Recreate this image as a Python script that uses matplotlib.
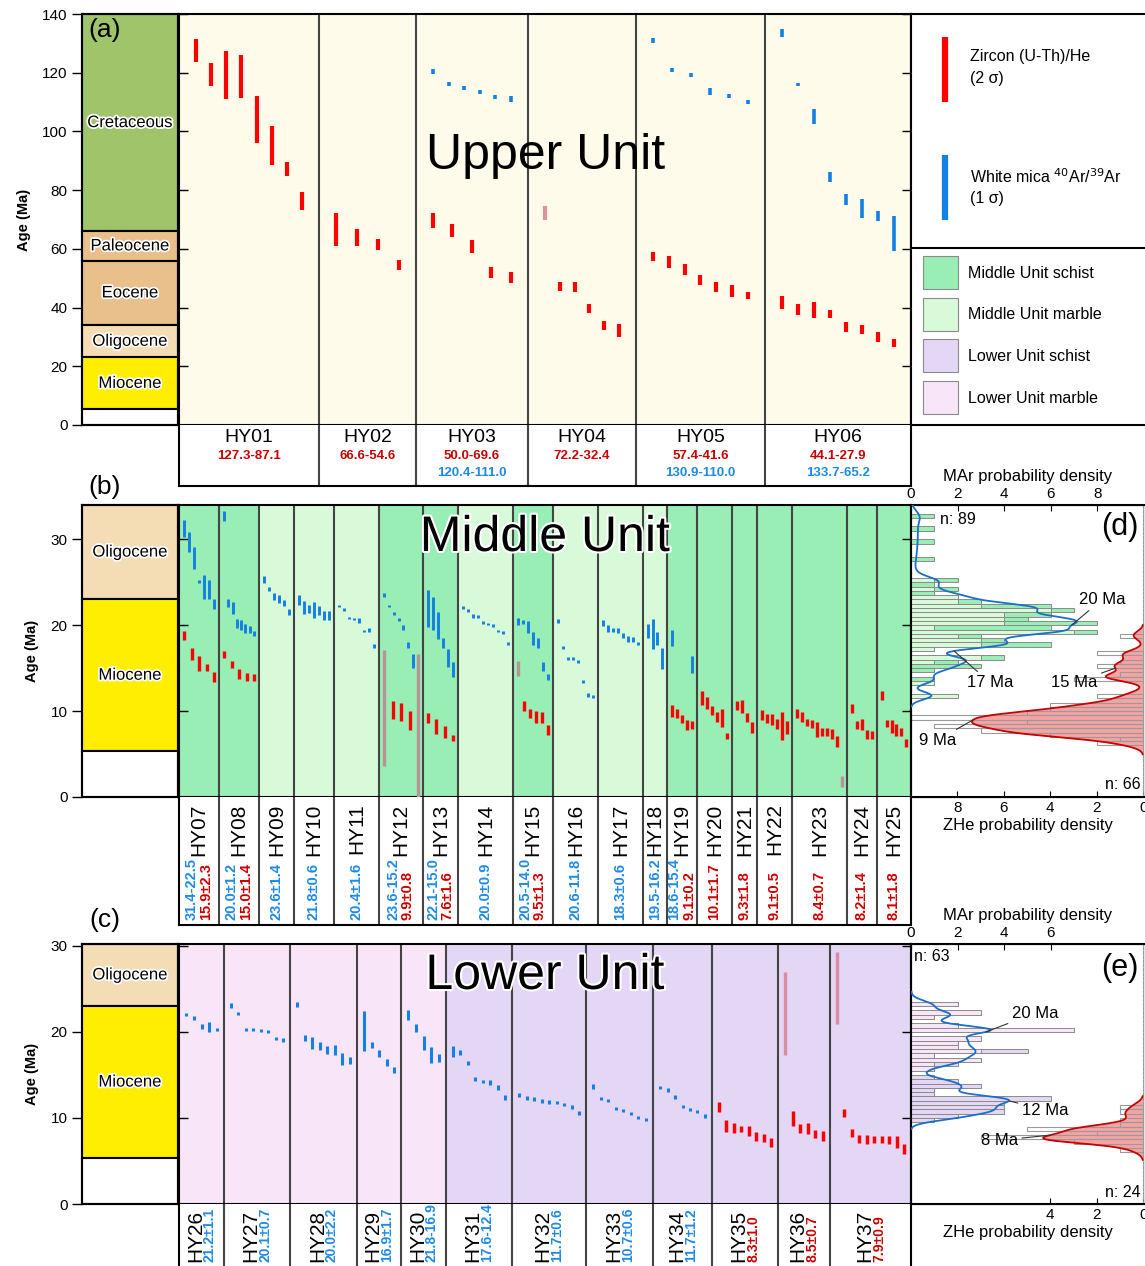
import numpy as np
import matplotlib
matplotlib.use("Agg")
import matplotlib.pyplot as plt
import matplotlib.patheffects as pe
from matplotlib.patches import Rectangle

plt.rcParams['font.family'] = ['Liberation Sans', 'DejaVu Sans']

W, H = 1145, 1266

RED = '#ff0000'
BLUE = '#1380e3'
TXT_RED = '#cc0000'
TXT_BLUE = '#1e8ae8'

# geologic time scale
epoch_name = ["Cretaceous", "Paleocene", "Eocene", "Oligocene", "Miocene", ""]
epoch_top = [145.0, 66.0, 56.0, 34.0, 23.03, 5.33]
epoch_base = [66.0, 56.0, 34.0, 23.03, 5.33, 0.0]
epoch_col = ["#a0c46a", "#e9bf8c", "#e9bf8c", "#f4dcb4", "#ffee00", "#ffffff"]

# ---------------- (a) Upper Unit ----------------
a_names = ["HY01", "HY02", "HY03", "HY04", "HY05", "HY06"]
a_zhe_lbl = ["127.3-87.1", "66.6-54.6", "50.0-69.6", "72.2-32.4", "57.4-41.6", "44.1-27.9"]
a_mar_lbl = ["", "", "120.4-111.0", "", "130.9-110.0", "133.7-65.2"]
# (young, old) ; a third item marks a rejected grain
a_zhe = [
    [(123.7, 131.5), (115.5, 123.3), (111.0, 127.4), (111.4, 126.0), (96.1, 112.1),
     (88.6, 101.8), (84.8, 89.6), (73.3, 79.4)],
    [(61.0, 72.2), (61.0, 66.8), (59.6, 63.4), (52.8, 56.2)],
    [(67.1, 72.2), (64.0, 68.5), (58.6, 63.0), (50.1, 53.8), (48.4, 52.1)],
    [(69.8, 74.6, "x"), (45.6, 48.7), (45.3, 48.7), (38.1, 41.2), (32.4, 35.4), (30.0, 34.4)],
    [(55.9, 58.9), (53.5, 57.6), (51.1, 54.8), (47.7, 51.1), (45.3, 48.7), (43.6, 47.7), (42.9, 45.3)],
    [(39.5, 43.9), (37.5, 41.2), (36.4, 41.9), (36.4, 39.2), (31.7, 35.1), (31.0, 34.1),
     (28.3, 31.7), (26.6, 29.3)],
]
a_mar = [
    [], [],
    [(119.5, 121.2), (115.5, 116.8), (114.1, 115.5), (112.7, 114.1), (111.0, 112.4), (110.0, 112.1)],
    [],
    [(130.1, 131.8), (120.2, 121.6), (118.5, 119.9), (112.4, 114.8), (111.4, 112.7), (109.3, 110.7)],
    [(132.2, 134.9), (115.5, 116.5), (102.5, 107.6), (82.8, 86.2), (74.9, 78.7), (70.5, 77.0),
     (69.5, 72.9), (59.3, 71.2)],
]

# ---------------- (b) Middle Unit ----------------
b_names = ["HY%02d" % i for i in range(7, 26)]
b_lith = list("SSMMMSSMSMMMSSSSSSS")
b_mar_lbl = ["31.4-22.5", "20.0±1.2", "23.6±1.4", "21.8±0.6", "20.4±1.6", "23.6-15.2", "22.1-15.0",
             "20.0±0.9", "20.5-14.0", "20.6-11.8", "18.3±0.6", "19.5-16.2", "18.6-15.4",
             "", "", "", "", "", ""]
b_zhe_lbl = ["15.9±2.3", "15.0±1.4", "", "", "", "9.9±0.8", "7.6±1.6", "", "9.5±1.3", "", "", "",
             "9.1±0.2", "10.1±1.7", "9.3±1.8", "9.1±0.5", "8.4±0.7", "8.2±1.4", "8.1±1.8"]
b_zhe = [
    [(18.3, 19.3), (15.9, 17.4), (14.7, 16.4), (14.7, 15.5), (13.4, 14.5)],
    [(16.2, 17.0), (15.0, 15.8), (13.7, 14.9), (13.5, 14.4), (13.5, 14.3)],
    [], [], [],
    [(3.6, 17.1, "x"), (9.1, 11.2), (8.8, 10.9), (7.8, 10.0), (-0.9, 16.6, "x")],
    [(8.6, 9.8), (7.3, 9.1), (6.9, 8.3), (6.5, 7.2)],
    [],
    [(14.1, 15.8, "x"), (10.0, 11.2), (9.2, 10.2), (8.6, 10.0), (8.6, 9.9), (7.2, 8.4)],
    [], [], [],
    [(9.3, 10.7), (9.2, 10.3), (8.6, 9.5), (7.8, 9.0), (7.9, 8.8)],
    [(10.7, 12.3), (10.3, 11.6), (9.5, 10.6), (8.7, 9.9), (8.1, 10.2), (6.7, 7.4)],
    [(10.1, 11.2), (9.8, 11.3), (8.7, 9.8), (7.4, 8.7)],
    [(9.0, 10.1), (8.6, 9.7), (8.4, 9.7), (7.9, 9.1), (6.6, 9.9), (7.3, 8.8)],
    [(9.2, 10.2), (8.7, 9.9), (8.3, 9.1), (8.0, 9.0), (7.0, 8.7), (7.1, 8.0), (7.1, 8.0),
     (6.7, 7.9), (5.8, 7.1), (1.2, 2.4, "x")],
    [(9.8, 10.8), (7.9, 8.8), (7.8, 9.1), (6.7, 7.8), (6.7, 7.7)],
    [(11.3, 12.3), (8.1, 9.0), (7.4, 9.0), (7.1, 8.5), (7.1, 8.0), (5.8, 6.7)],
]
b_mar = [
    [(30.3, 32.3), (28.5, 30.8), (26.6, 29.1), (24.9, 25.3), (23.1, 25.9), (23.0, 25.3), (21.9, 23.0)],
    [(32.1, 33.3), (22.1, 23.1), (21.3, 22.7), (19.7, 20.7), (19.5, 20.6), (19.1, 20.2),
     (19.1, 19.9), (18.7, 19.3)],
    [(24.9, 25.7), (24.0, 24.5), (22.9, 23.7), (22.6, 23.5), (22.2, 22.9), (21.2, 21.9)],
    [(22.3, 23.5), (21.3, 22.8), (21.4, 22.4), (20.8, 22.7), (21.2, 22.2), (20.6, 21.7), (20.6, 21.6)],
    [(22.1, 22.4), (21.7, 22.0), (20.7, 21.0), (20.6, 20.9), (20.3, 20.8), (19.2, 19.5),
     (19.2, 19.7), (17.4, 17.8)],
    [(23.3, 23.7), (22.1, 22.3), (21.2, 21.5), (20.5, 20.8), (19.4, 20.0), (17.4, 18.0),
     (15.0, 16.7), (14.9, 15.2)],
    [(19.8, 24.1), (19.5, 23.3), (18.4, 21.5), (17.4, 18.5), (15.1, 17.2), (14.0, 15.7)],
    [(21.9, 22.2), (21.5, 21.9), (20.9, 21.3), (20.8, 21.2), (20.1, 20.5), (20.0, 20.3),
     (19.8, 20.2), (19.2, 19.5), (19.0, 19.3), (17.7, 18.0)],
    [(20.0, 20.8), (20.2, 20.6), (19.1, 20.5), (17.7, 19.2), (17.4, 18.5), (14.7, 15.7), (13.6, 14.3)],
    [(20.3, 20.7), (17.2, 17.6), (15.9, 16.3), (15.9, 16.3), (15.6, 15.9), (13.3, 13.6),
     (11.7, 12.1), (11.5, 11.9)],
    [(19.9, 20.6), (19.2, 20.0), (19.2, 19.7), (19.1, 19.7), (18.5, 19.1), (18.1, 18.7),
     (18.0, 18.6), (17.7, 18.0)],
    [(18.5, 20.2), (17.2, 20.7), (17.7, 19.2), (14.9, 17.3)],
    [(17.6, 19.4), (14.4, 16.4)],
    [], [], [], [], [], [],
]

# ---------------- (c) Lower Unit ----------------
c_names = ["HY%02d" % i for i in range(26, 38)]
c_lith = list("MMMMMSSSSSSS")
c_lbl = ["21.2±1.1", "20.1±0.7", "20.0±2.2", "16.9±1.7", "21.8-16.9", "17.6-12.4", "11.7±0.6",
         "10.7±0.6", "11.7±1.2", "8.3±1.0", "8.5±0.7", "7.9±0.9"]
c_lbl_is_zhe = [False] * 9 + [True] * 3
c_mar = [
    [(21.9, 22.2), (21.4, 21.9), (20.3, 20.9), (20.0, 21.2), (20.1, 20.5)],
    [(22.8, 23.4), (22.0, 22.3), (20.1, 20.5), (20.1, 20.5), (20.0, 20.3), (19.9, 20.2),
     (19.1, 19.4), (18.8, 19.3)],
    [(22.9, 23.5), (19.0, 19.7), (18.0, 19.4), (17.9, 18.8), (17.4, 18.4), (17.3, 18.5),
     (16.2, 17.6), (16.3, 17.1)],
    [(17.8, 22.4), (18.1, 18.8), (17.1, 17.9), (16.0, 16.9), (15.2, 15.9)],
    [(21.4, 22.6), (20.0, 20.9), (17.9, 19.5), (16.4, 18.3), (16.5, 17.4)],
    [(17.1, 18.4), (17.3, 17.9), (16.2, 16.6), (14.3, 14.8), (14.1, 14.4), (13.8, 14.4),
     (13.3, 13.8), (12.1, 12.7)],
    [(12.4, 12.9), (12.1, 12.6), (12.0, 12.4), (11.7, 12.2), (11.6, 12.1), (11.6, 12.0),
     (11.4, 11.7), (11.0, 11.5), (10.3, 10.8)],
    [(13.4, 14.0), (12.1, 12.4), (11.9, 12.2), (10.9, 11.3), (10.7, 11.0), (10.3, 10.7),
     (9.9, 10.2), (9.7, 10.0)],
    [(13.4, 13.7), (13.0, 13.5), (12.2, 12.7), (11.2, 11.5), (10.8, 11.2), (10.6, 10.9), (10.0, 10.5)],
    [], [], [],
]
c_zhe = [
    [], [], [], [], [], [], [], [], [],
    [(10.7, 11.9), (8.4, 9.8), (8.3, 9.4), (8.4, 9.1), (7.9, 9.1), (7.3, 8.4), (7.2, 8.1), (6.6, 7.7)],
    [(17.3, 27.0, "x"), (9.1, 10.8), (8.3, 9.3), (8.1, 9.4), (7.7, 8.6), (7.3, 8.5)],
    [(20.9, 29.3, "x"), (10.1, 11.0), (7.8, 8.7), (7.1, 8.0), (7.0, 8.0), (7.1, 7.9), (7.1, 7.9),
     (7.0, 7.9), (6.5, 7.9), (5.8, 7.0)],
]

# layout: relative column widths (pixels of the original)
a_w = [140, 97, 112, 108, 129, 146]
b_w = [40, 40, 35, 40, 45, 44, 35, 55, 40, 45, 45, 24, 30, 35, 25, 35, 55, 30, 34]
c_w = [45, 66, 67, 44, 45, 66, 74, 67, 59, 66, 52, 81]

FILL = {"U": "#fefbeb", "MS": "#98eeb4", "MM": "#d9fad9", "LS": "#e4d7f5", "LM": "#f8e6f8"}

fig = plt.figure(figsize=(W / 100, H / 100), dpi=100)


def px_axes(x0, y0, x1, y1, **kw):
    return fig.add_axes([x0 / W, 1 - y1 / H, (x1 - x0) / W, (y1 - y0) / H], **kw)


def ptext(x, y, s, **kw):
    return fig.text(x / W, 1 - y / H, s, **kw)


def bounds(widths):
    e = np.concatenate([[0], np.cumsum(widths)])
    return e[:-1], np.array(widths, float)


def slots(x0, w, n, m):
    if n == 1:
        return np.array([x0 + w / 2])
    return x0 + m + np.arange(n) * (w - 2 * m) / (n - 1)


def strat(ax, ymax, yticks):
    for nm, t, b, c in zip(epoch_name, epoch_top, epoch_base, epoch_col):
        if b >= ymax:
            continue
        top = min(t, ymax)
        ax.add_patch(Rectangle((0, b), 1, top - b, fc=c, ec='k', lw=1.5, clip_on=False))
        if nm:
            ax.text(0.5, (b + top) / 2, nm, ha='center', va='center', fontsize=12,
                    path_effects=[pe.withStroke(linewidth=2.5, foreground='white')])
    ax.set_xlim(0, 1)
    ax.set_ylim(0, ymax)
    ax.set_xticks([])
    ax.set_yticks(yticks)
    ax.tick_params(axis='y', direction='out', length=7, width=1, labelsize=11)
    ax.set_ylabel('Age (Ma)', fontweight='bold', fontsize=10.5, labelpad=8)
    for s in ax.spines.values():
        s.set_linewidth(1.5)


def age_panel(ax, widths, fills, zhe, mar, ymax, yticks, margin, lw, rej_col):
    x0s, ws = bounds(widths)
    for x0, w, f in zip(x0s, ws, fills):
        ax.axvspan(x0, x0 + w, color=f, lw=0, zorder=0)
    for x in x0s[1:]:
        ax.axvline(x, color='#444444', lw=1.5, zorder=1)
    for x0, w, zl, ml in zip(x0s, ws, zhe, mar):
        for x, e in zip(slots(x0, w, len(ml), margin), ml):
            ax.vlines(x, e[0], e[1], colors=BLUE, lw=lw[1], zorder=3)
        for x, e in zip(slots(x0, w, len(zl), margin), zl):
            c = rej_col if len(e) > 2 else RED
            ax.vlines(x, e[0], e[1], colors=c, lw=lw[0], zorder=3, clip_on=False)
    ax.set_xlim(0, sum(widths))
    ax.set_ylim(0, ymax)
    ax.set_xticks([])
    ax.set_yticks(yticks)
    ax.tick_params(axis='y', direction='in', left=True, right=True, labelleft=False,
                   length=6.5, width=1)
    for s in ax.spines.values():
        s.set_linewidth(1.5)


def table(ax, widths):
    x0s, ws = bounds(widths)
    ax.set_xlim(0, sum(widths))
    ax.set_ylim(0, 1)
    ax.set_xticks([])
    ax.set_yticks([])
    for x in x0s[1:]:
        ax.axvline(x, color='#444444', lw=1.5)
    for s in ax.spines.values():
        s.set_linewidth(1.5)
    ax.spines['top'].set_visible(False)
    return x0s + ws / 2


def pdp(grains, nsig, bw, grid):
    y = np.zeros_like(grid)
    for g in grains:
        mu = (g[0] + g[1]) / 2
        s = np.hypot((g[1] - g[0]) / 2 / nsig, bw)
        y += np.exp(-0.5 * ((grid - mu) / s) ** 2) / (s * np.sqrt(2 * np.pi))
    return y * 0.5  # scaled to counts per 0.5 Ma bin


def hist_panel(ax, ymax, zhe, mar, lith, col_s, col_m, zticks, mticks, notes):
    zg = [g for s in zhe for g in s if len(g) == 2]
    ms = [g for s, l in zip(mar, lith) for g in s if l == 'S']
    mm = [g for s, l in zip(mar, lith) for g in s if l == 'M']
    bins = np.arange(0, ymax + 0.5, 0.5)
    grid = np.linspace(0, ymax, 800)

    # ZHe on bottom axis, growing leftwards from the right edge
    ax.set_ylim(0, ymax)
    ax.set_xlim(10.0, -0.08)
    kz = pdp(zg, 2, 0.42, grid)
    ax.fill_betweenx(grid, 0, kz, color='#f6a3a3', lw=0, zorder=1)
    cz, _ = np.histogram([(g[0] + g[1]) / 2 for g in zg], bins)
    ax.barh(bins[:-1], cz, height=0.5, align='edge', fc='none', ec='#9a9a9a', lw=0.8, zorder=2)
    ax.plot(np.where(kz > 0.02, kz, np.nan), grid, color='#c80000', lw=1.3, zorder=3)
    ax.set_xticks(zticks)
    ax.set_yticks([])
    ax.tick_params(axis='x', direction='in', length=4, labelsize=11, pad=3)
    ax.set_xlabel('ZHe probability density', fontsize=12, labelpad=2)
    for s in ax.spines.values():
        s.set_linewidth(1.5)
    ax.spines['right'].set_linewidth(0.8)
    ax.spines['right'].set_color('#999999')

    am = ax.twiny()
    am.set_xlim(0, 10.04)
    am.set_ylim(0, ymax)
    cm, _ = np.histogram([(g[0] + g[1]) / 2 for g in mm], bins)
    cs, _ = np.histogram([(g[0] + g[1]) / 2 for g in ms], bins)
    am.barh(bins[:-1], cm, height=0.5, align='edge', fc=col_m, ec='#8a8a8a', lw=0.7, zorder=2)
    am.barh(bins[:-1], cs, left=cm, height=0.5, align='edge', fc=col_s, ec='#8a8a8a', lw=0.7, zorder=2)
    km = pdp(ms + mm, 1, 0.4, grid)
    am.plot(np.where(km > 0.02, km, np.nan), grid, color='#1a6fc9', lw=1.3, zorder=4)
    am.set_xticks(mticks)
    am.tick_params(axis='x', direction='in', length=4, labelsize=11, pad=3)
    am.set_xlabel('MAr probability density', fontsize=12, labelpad=4)

    for kind, age, tx, ty, ha in notes:
        if kind == 'm':
            xy = (np.interp(age, grid, km), age)
            a = am
        else:
            xy = (np.interp(age, grid, kz), age)
            a = ax
        a.annotate('%d Ma' % age, xy=xy, xytext=(tx, ty), ha=ha, va='center', fontsize=12,
                   arrowprops=dict(arrowstyle='-', color='#333333', lw=0.8, shrinkA=1, shrinkB=0),
                   zorder=6)
    return am


# ---------------- panel (a) ----------------
ax_sa = px_axes(82, 14, 178, 425)
strat(ax_sa, 140, range(0, 141, 20))
ax_a = px_axes(179, 14, 911, 425)
age_panel(ax_a, a_w, [FILL["U"]] * 6, a_zhe, a_mar, 140, range(0, 141, 20), 17, (3.0, 2.6), '#e0909f')
ax_at = px_axes(179, 425, 911, 486)
for xc, nm, zl, ml in zip(table(ax_at, a_w), a_names, a_zhe_lbl, a_mar_lbl):
    ax_at.text(xc, 0.80, nm, ha='center', va='center', fontsize=14)
    ax_at.text(xc, 0.49, zl, ha='center', va='center', fontsize=9.5, fontweight='bold', color=TXT_RED)
    if ml:
        ax_at.text(xc, 0.21, ml, ha='center', va='center', fontsize=9.5, fontweight='bold', color=TXT_BLUE)
ptext(546, 156, 'Upper Unit', ha='center', va='center', fontsize=36)

# legend box
ax_l = px_axes(911, 14, 1145, 425)
ax_l.set_xlim(0, 234)
ax_l.set_ylim(411, 0)
ax_l.set_xticks([])
ax_l.set_yticks([])
for s in ax_l.spines.values():
    s.set_linewidth(1.5)
ax_l.spines['right'].set_visible(False)
ax_l.vlines(34, 23, 88, colors=RED, lw=4.5)
ax_l.text(59, 43, 'Zircon (U-Th)/He', va='center', fontsize=11.5)
ax_l.text(59, 64, '(2 σ)', va='center', fontsize=11.5)
ax_l.vlines(34, 141, 206, colors=BLUE, lw=4.5)
ax_l.text(59, 163, 'White mica $^{40}$Ar/$^{39}$Ar', va='center', fontsize=11.5)
ax_l.text(59, 184, '(1 σ)', va='center', fontsize=11.5)
ax_l.axhline(234, color='k', lw=1.5)
leg_lbl = ["Middle Unit schist", "Middle Unit marble", "Lower Unit schist", "Lower Unit marble"]
leg_col = [FILL["MS"], FILL["MM"], FILL["LS"], FILL["LM"]]
for i, (lb, cl) in enumerate(zip(leg_lbl, leg_col)):
    y0 = 242 + i * 41.7
    ax_l.add_patch(Rectangle((12, y0), 35, 33, fc=cl, ec='#8a8a8a', lw=0.8))
    ax_l.text(57, y0 + 17, lb, va='center', fontsize=11.5)

# ---------------- panel (b) ----------------
ax_sb = px_axes(82, 505, 178, 797)
strat(ax_sb, 34, [0, 10, 20, 30])
ax_b = px_axes(179, 505, 911, 797)
b_fill = [FILL["MS"] if l == 'S' else FILL["MM"] for l in b_lith]
age_panel(ax_b, b_w, b_fill, b_zhe, b_mar, 34, [0, 10, 20, 30], 5, (2.4, 2.1), '#b99393')
ax_bt = px_axes(179, 797, 911, 925)
for xc, nm, ml, zl in zip(table(ax_bt, b_w), b_names, b_mar_lbl, b_zhe_lbl):
    ax_bt.text(xc, 0.95, nm, rotation=90, ha='center', va='top', fontsize=15)
    vals = [(v, c) for v, c in ((ml, TXT_BLUE), (zl, TXT_RED)) if v]
    offs = [0] if len(vals) == 1 else [-7.5, 7.0]
    for (v, c), o in zip(vals, offs):
        ax_bt.text(xc + o, 0.04, v, rotation=90, ha='center', va='bottom', fontsize=10.5,
                   fontweight='bold', color=c)
ptext(545, 538, 'Middle Unit', ha='center', va='center', fontsize=36,
      path_effects=[pe.withStroke(linewidth=3, foreground='white')])

ax_d = px_axes(911, 505, 1145, 797)
am_d = hist_panel(ax_d, 34, b_zhe, b_mar, b_lith, FILL["MS"], FILL["MM"], [8, 6, 4, 2, 0], [0, 2, 4, 6, 8],
                  [('m', 20, 7.2, 23.0, 'left'), ('m', 17, 2.4, 13.3, 'left'),
                   ('z', 15, 1.97, 13.3, 'right'), ('z', 9, 8.07, 6.6, 'right')])
am_d.text(1.25, 32.3, 'n: 89', va='center', fontsize=11.5)
ax_d.text(0.1, 1.4, 'n: 66', ha='right', va='center', fontsize=11.5)
am_d.text(8.97, 31.4, '(d)', ha='center', va='center', fontsize=22)

# ---------------- panel (c) ----------------
YC = 30.23
ax_sc = px_axes(82, 944, 178, 1204)
strat(ax_sc, YC, [0, 10, 20, 30])
ax_c = px_axes(179, 944, 911, 1204)
c_fill = [FILL["LS"] if l == 'S' else FILL["LM"] for l in c_lith]
age_panel(ax_c, c_w, c_fill, c_zhe, c_mar, YC, [0, 10, 20, 30], 7, (2.5, 2.2), '#d88ca6')
ax_ct = px_axes(179, 1204, 911, 1266)
for xc, nm, v, z in zip(table(ax_ct, c_w), c_names, c_lbl, c_lbl_is_zhe):
    ax_ct.text(xc - 6, 0.07, nm, rotation=90, ha='center', va='bottom', fontsize=15)
    ax_ct.text(xc + 8.5, 0.07, v, rotation=90, ha='center', va='bottom', fontsize=10,
               fontweight='bold', color=TXT_RED if z else TXT_BLUE)
ax_ct.spines['bottom'].set_visible(False)
ptext(545, 976, 'Lower Unit', ha='center', va='center', fontsize=36,
      path_effects=[pe.withStroke(linewidth=3, foreground='white')])

ax_e = px_axes(911, 944, 1145, 1204)
am_e = hist_panel(ax_e, YC, c_zhe, c_mar, c_lith, FILL["LS"], FILL["LM"], [4, 2, 0], [0, 2, 4, 6],
                  [('m', 20, 4.33, 22.2, 'left'), ('m', 12, 4.76, 10.9, 'left'),
                   ('z', 8, 5.4, 7.4, 'right')])
am_e.text(0.13, 28.8, 'n: 63', va='center', fontsize=11.5)
ax_e.text(0.1, 1.3, 'n: 24', ha='right', va='center', fontsize=11.5)
am_e.text(8.97, 27.4, '(e)', ha='center', va='center', fontsize=22)

# panel letters
ptext(105, 30, '(a)', ha='center', va='center', fontsize=19)
ptext(105, 487, '(b)', ha='center', va='center', fontsize=19)
ptext(105, 920, '(c)', ha='center', va='center', fontsize=19)

fig.savefig('out.png', dpi=100)
